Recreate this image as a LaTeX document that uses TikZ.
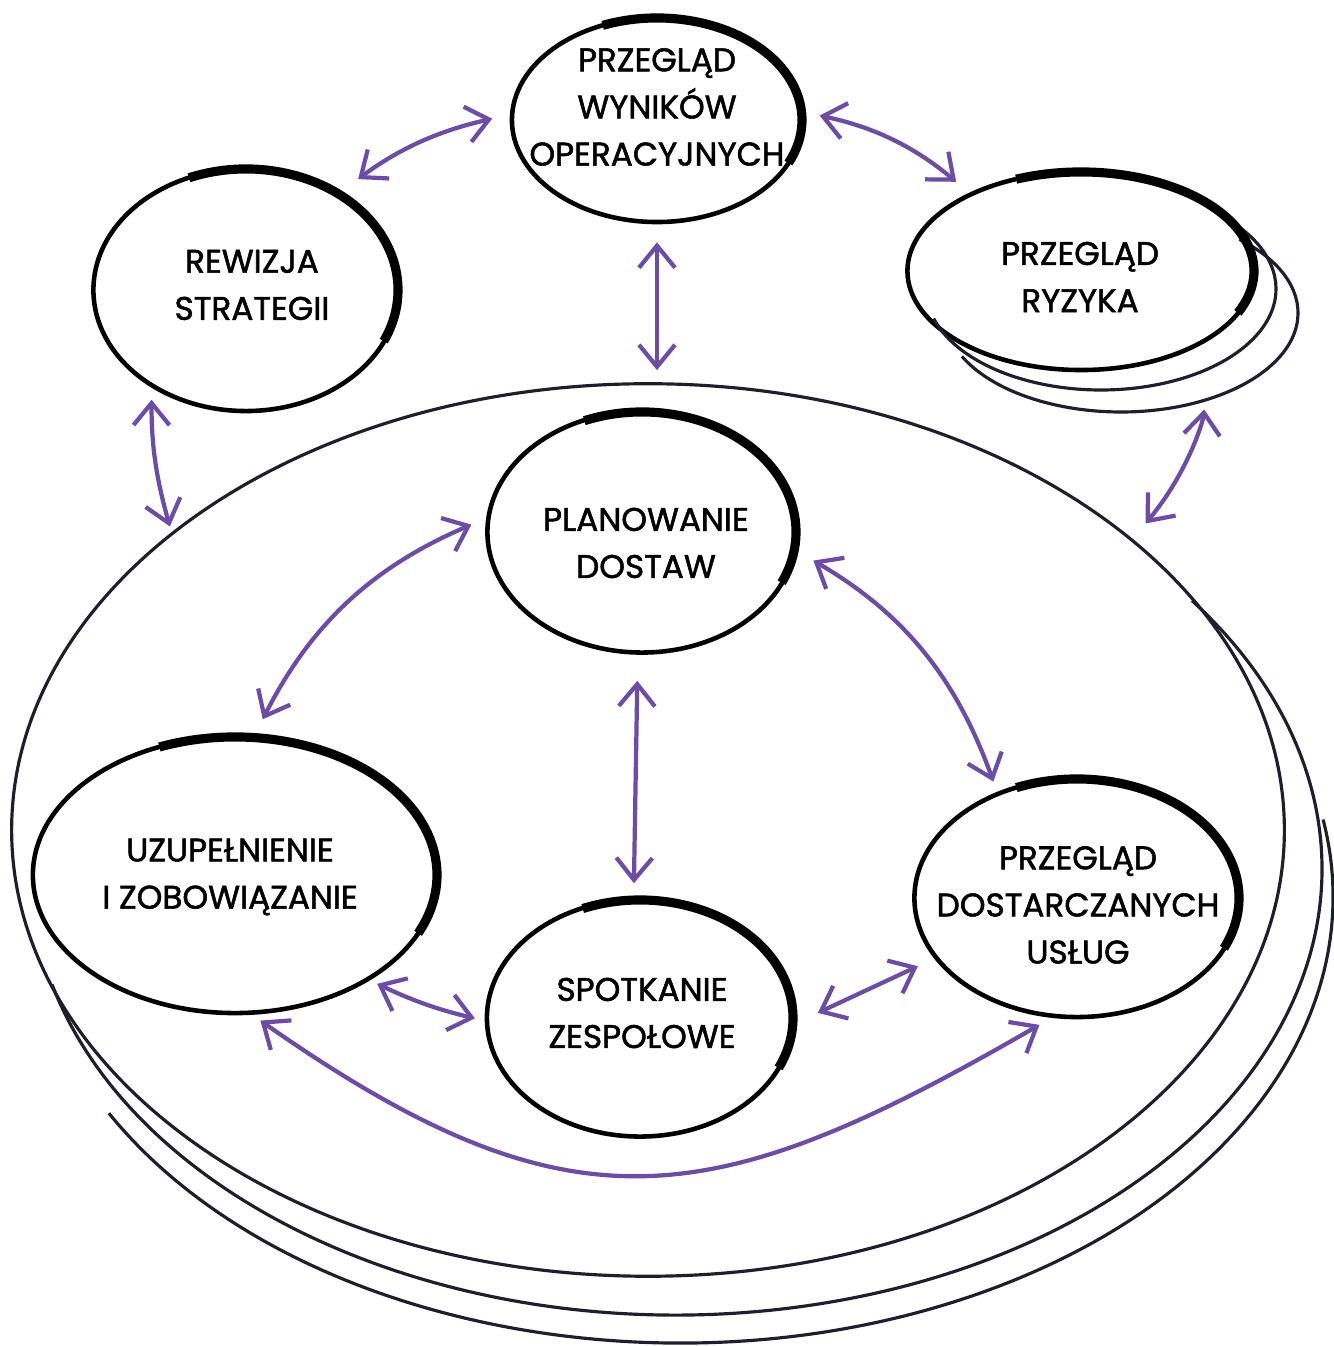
\documentclass[tikz,border=0pt]{standalone}
\usepackage{fontspec}
\setmainfont{Poppins}[FakeBold=1.6]
\usetikzlibrary{arrows.meta, shapes.geometric}
\definecolor{purp}{RGB}{108,76,166}
\definecolor{ink}{RGB}{30,30,44}

\begin{document}
\begin{tikzpicture}[x=0.01cm, y=0.01cm, box/.style={ellipse, draw, line width=1.3pt, inner sep=0pt}, txt/.style={align=center, inner sep=0pt, font=\fontsize{9.3}{13.4}\selectfont}, lnk/.style={<->, >={Straight Barb[length=2.2mm, width=3.6mm]}, draw=purp, line width=1.2pt, shorten <=0.18cm, shorten >=0.18cm}, stk/.style={draw=ink, line width=0.9pt}, thk/.style={line width=2.6pt}]

          \useasboundingbox (0,0) rectangle (1333,1346);

          \node[box, draw=ink, line width=0.9pt, minimum width=12.72cm, minimum height=8.92cm] (base) at (648,516) {};
          \draw[stk] (base.center) ++(28,-39) ++(195:646 and 446) arc[start angle=195, end angle=397, x radius=646, y radius=446];
          \draw[stk] (base.center) ++(32,-67) ++(209:653 and 446) arc[start angle=209, end angle=370, x radius=653, y radius=446];

          \node[box, minimum width=2.9cm, minimum height=2.04cm] (opr) at (657,1226) {};
          \node[box, minimum width=3.05cm, minimum height=2.42cm] (rew) at (246,1056) {};
          \node[box, minimum width=3.47cm, minimum height=1.98cm] (ryz) at (1081,1075) {};
          \draw[stk] (ryz.center) ++(20,-18) ++(197:175 and 101) arc[start angle=197, end angle=400, x radius=175, y radius=101];
          \draw[stk] (ryz.center) ++(40,-42) ++(206:177 and 99) arc[start angle=206, end angle=408, x radius=177, y radius=99];

          \node[box, minimum width=3.09cm, minimum height=2.41cm] (plan) at (642,814) {};
          \node[box, minimum width=4.04cm, minimum height=2.76cm] (uzu) at (235,471) {};
          \node[box, minimum width=3.06cm, minimum height=2.37cm] (spot) at (640,328) {};
          \node[box, minimum width=3.25cm, minimum height=2.38cm] (dost) at (1077,448) {};

          \foreach \n/\a/\b in {opr/145/102, rew/152/121, ryz/173/99, plan/154/120, uzu/202/138, spot/153/118, dost/162/119}
            \draw[thk] (\n.center) ++(112:{\a} and {\b}) arc[start angle=112, end angle=-25, x radius=\a, y radius=\b];

          \node[txt] (oprT) at (657,1239) {PRZEGLĄD\\WYNIKÓW\\OPERACYJNYCH};
          \node[txt] (rewT) at (252,1061) {REWIZJA\\STRATEGII};
          \node[txt] (ryzT) at (1080,1069) {PRZEGLĄD\\RYZYKA};
          \node[txt] (planT) at (646,803) {PLANOWANIE\\DOSTAW};
          \node[txt] (uzuT) at (230,469) {UZUPEŁNIENIE\\I ZOBOWIĄZANIE};
          \node[txt] (spotT) at (642,333) {SPOTKANIE\\ZESPOŁOWE};
          \node[txt] (dostT) at (1078,441) {PRZEGLĄD\\DOSTARCZANYCH\\USŁUG};

          \draw[lnk, shorten <=0.22cm] (rew.46) to[bend left=12] (opr.178);
          \draw[lnk, shorten <=0.16cm, shorten >=0.17cm] (opr.3) to[bend left=14] (ryz.145);
          \draw[lnk, shorten >=0.12cm] (opr.south) -- (opr.south |- base.north);
          \draw[lnk, shorten <=0.12cm, shorten >=0.06cm] (rew.226) to[bend right=8] (base.148);
          \draw[lnk, shorten <=0.7cm, shorten >=0.2cm] (ryz.-28) to[out=-95, in=50] (base.31);
          \draw[lnk, shorten <=0.16cm] (plan.175) to[bend right=20] (uzu.82);
          \draw[lnk, shorten <=0.19cm, shorten >=0.11cm] (plan.-7) to[bend left=20] (dost.127);
          \draw[lnk, shorten <=0.26cm, shorten >=0.14cm] (plan.268) -- (spot.93);
          \draw[lnk, shorten <=0.08cm, shorten >=0.1cm] (uzu.-38) to[bend right=6] (spot.181);
          \draw[lnk, shorten <=0.25cm] (spot.-2) -- (dost.203);
          \draw[lnk, shorten <=0.1cm, shorten >=0.14cm] (uzu.277) to[out=-35, in=-150, looseness=1.25] (dost.258);

      \end{tikzpicture}
\end{document}
